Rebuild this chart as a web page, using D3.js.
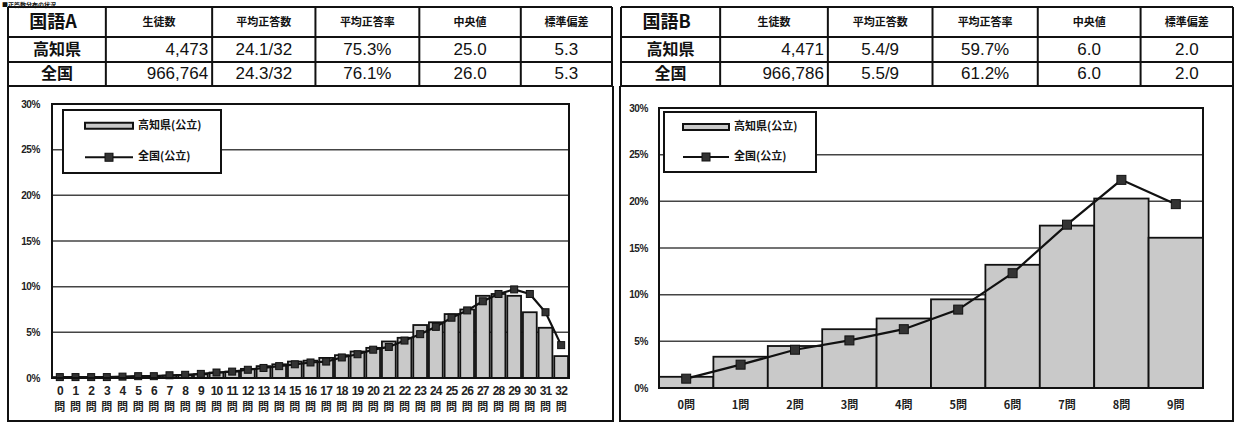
<!DOCTYPE html>
<html><head><meta charset="utf-8">
<script src="https://cdn.jsdelivr.net/npm/d3@7"></script>
<style>
html,body{margin:0;padding:0;background:#fff;}
svg{display:block;}
</style></head>
<body>
<svg id="c" width="1236" height="423"></svg>
<script>
// ---------- DATA ----------
const tableAHeaders = ["国語A","生徒数","平均正答数","平均正答率","中央値","標準偏差"];
const tableARows = [
  ["高知県","4,473","24.1/32","75.3%","25.0","5.3"],
  ["全国","966,764","24.3/32","76.1%","26.0","5.3"]
];
const tableBHeaders = ["国語B","生徒数","平均正答数","平均正答率","中央値","標準偏差"];
const tableBRows = [
  ["高知県","4,471","5.4/9","59.7%","6.0","2.0"],
  ["全国","966,786","5.5/9","61.2%","6.0","2.0"]
];
const seriesNames = ["高知県(公立)","全国(公立)"];
const yTicks = [0,5,10,15,20,25,30];

const catsA = d3.range(0,33).map(String);
const kochiA = [0.1,0.05,0.05,0.1,0.1,0.15,0.2,0.25,0.3,0.4,0.6,0.7,1.0,1.3,1.5,1.8,1.9,2.2,2.5,2.9,3.3,4.0,4.4,5.8,6.1,7.0,7.5,9.0,9.2,9.0,7.2,5.5,2.4];
const zenkokuA = [0.1,0.1,0.1,0.1,0.15,0.2,0.2,0.3,0.35,0.45,0.6,0.7,0.9,1.1,1.3,1.5,1.7,1.8,2.25,2.6,3.1,3.4,4.1,4.8,5.6,6.6,7.4,8.4,9.2,9.7,9.2,7.2,3.6];

const catsB = ["0問","1問","2問","3問","4問","5問","6問","7問","8問","9問"];
const kochiB = [1.2,3.35,4.5,6.3,7.45,9.5,13.2,17.4,20.3,16.1];
const zenkokuB = [1.0,2.5,4.1,5.1,6.3,8.4,12.3,17.5,22.3,19.7];

// ---------- DRAW ----------
const svg = d3.select("#c");
const JP = "'Noto Sans CJK JP','Noto Sans CJK SC',sans-serif";
const NUM = "'Liberation Sans Narrow','Liberation Sans',Arial,sans-serif";
const LAT = "'Liberation Sans',Arial,sans-serif";

// small title above the tables
svg.append("text").attr("x",2).attr("y",6.5).attr("font-family",JP).attr("font-weight","bold")
  .attr("font-size",6).attr("fill","#111").text("■正答数分布の状況");

const colFr = [0,0.162,0.338,0.509,0.681,0.849,1];
const rowYs = [7,37,62,86];

function drawTable(x0,x1,headers,rows){
  const g = svg.append("g");
  const w = x1-x0;
  const xs = colFr.map(f=>x0+f*w);
  headers.forEach((h,i)=>{
    const cx=(xs[i]+xs[i+1])/2;
    g.append("text").attr("x", i===0? cx-4: cx).attr("y",(rowYs[0]+rowYs[1])/2+1)
      .attr("text-anchor","middle").attr("dominant-baseline","middle")
      .attr("font-family",JP).attr("font-weight","bold")
      .attr("font-size", i===0?18:11).attr("fill","#111").text(h);
  });
  rows.forEach((r,ri)=>{
    const yc=(rowYs[ri+1]+rowYs[ri+2])/2+1;
    r.forEach((v,i)=>{
      const cx=(xs[i]+xs[i+1])/2;
      const t=g.append("text").attr("y",yc).attr("dominant-baseline","middle").attr("fill","#111");
      if(i===0){ t.attr("x",cx).attr("text-anchor","middle").attr("font-family",JP).attr("font-weight","bold").attr("font-size",16); }
      else if(i===1){ t.attr("x",xs[2]-4).attr("text-anchor","end").attr("font-family",NUM).attr("font-size",17); }
      else { t.attr("x",cx).attr("text-anchor","middle").attr("font-family",NUM).attr("font-size",17); }
      t.text(v);
    });
  });
  rowYs.forEach(y=>g.append("line").attr("x1",x0).attr("x2",x1).attr("y1",y).attr("y2",y).attr("stroke","#111").attr("stroke-width",2));
  xs.forEach(x=>g.append("line").attr("x1",x).attr("x2",x).attr("y1",rowYs[0]).attr("y2",rowYs[3]).attr("stroke","#111").attr("stroke-width",2));
}
drawTable(8,612,tableAHeaders,tableARows);
drawTable(621,1233,tableBHeaders,tableBRows);

function panel(x0,x1){
  svg.append("path").attr("d",`M${x0},86V421H${x1}V86`).attr("fill","none").attr("stroke","#111").attr("stroke-width",2);
}
panel(8,613);
panel(620,1233);

function drawChart(o){
  const g = svg.append("g");
  const x = d3.scaleBand().domain(o.cats).range([o.left,o.right]).paddingInner(o.pad).paddingOuter(o.pad/2);
  const y = d3.scaleLinear().domain([0,30]).range([o.bottom,o.top]);
  g.selectAll(".grid").data(yTicks.filter(t=>t>0&&t<30)).join("line")
    .attr("x1",o.left).attr("x2",o.right).attr("y1",d=>y(d)).attr("y2",d=>y(d))
    .attr("stroke","#444").attr("stroke-width",1.5);
  const ya = g.append("g").attr("transform",`translate(${o.left},0)`)
    .call(d3.axisLeft(y).tickValues(yTicks).tickFormat(d=>d+"%").tickSize(0).tickPadding(o.ypad));
  ya.select(".domain").remove();
  ya.selectAll("text").attr("font-family",LAT).attr("font-weight","bold")
    .attr("font-size",10).attr("letter-spacing",-0.4).attr("fill","#222");
  g.selectAll(".bar").data(o.bars).join("rect")
    .attr("x",(d,i)=>x(o.cats[i])).attr("width",x.bandwidth())
    .attr("y",d=>y(d)).attr("height",d=>y(0)-y(d))
    .attr("fill","#c9c9c9").attr("stroke","#111").attr("stroke-width",o.barStroke);
  const line = d3.line().x((d,i)=>x(o.cats[i])+x.bandwidth()/2).y(d=>y(d));
  g.append("path").datum(o.line).attr("d",line).attr("fill","none").attr("stroke","#111").attr("stroke-width",2.2);
  g.selectAll(".mk").data(o.line).join("rect")
    .attr("x",(d,i)=>x(o.cats[i])+x.bandwidth()/2-o.mk/2).attr("y",d=>y(d)-o.mk/2)
    .attr("width",o.mk).attr("height",o.mk).attr("fill","#333").attr("stroke","#111").attr("stroke-width",1);
  g.append("rect").attr("x",o.left).attr("y",o.top).attr("width",o.right-o.left).attr("height",o.bottom-o.top)
    .attr("fill","none").attr("stroke","#111").attr("stroke-width",2);
  o.cats.forEach((c,i)=>{
    const cx = x(c)+x.bandwidth()/2;
    if(o.split){
      g.append("text").attr("x",cx).attr("y",o.bottom+17).attr("text-anchor","middle")
        .attr("font-family",LAT).attr("font-weight","bold").attr("font-size",12)
        .attr("letter-spacing",-0.8).attr("fill","#222").text(c);
      g.append("text").attr("x",cx).attr("y",o.bottom+33).attr("text-anchor","middle")
        .attr("font-family",JP).attr("font-weight","bold").attr("font-size",11).attr("fill","#222").text("問");
    } else {
      g.append("text").attr("x",cx).attr("y",o.bottom+21).attr("text-anchor","middle")
        .attr("font-family",JP).attr("font-weight","bold").attr("font-size",11).attr("fill","#222").text(c);
    }
  });
  const L=o.leg;
  g.append("rect").attr("x",L.x).attr("y",L.y).attr("width",L.w).attr("height",L.h)
    .attr("fill","#fff").attr("stroke","#111").attr("stroke-width",2);
  g.append("rect").attr("x",L.sx).attr("y",L.y+L.h*0.25-3).attr("width",L.sw).attr("height",6)
    .attr("fill","#c9c9c9").attr("stroke","#111").attr("stroke-width",2);
  g.append("line").attr("x1",L.sx).attr("x2",L.sx+L.sw).attr("y1",L.y+L.h*0.75).attr("y2",L.y+L.h*0.75)
    .attr("stroke","#111").attr("stroke-width",2.2);
  g.append("rect").attr("x",L.sx+L.sw/2-4).attr("y",L.y+L.h*0.75-4).attr("width",8).attr("height",8).attr("fill","#333").attr("stroke","#111");
  seriesNames.forEach((s,i)=>{
    g.append("text").attr("x",L.sx+L.sw+5).attr("y",L.y+L.h*(i?0.75:0.25)).attr("dominant-baseline","middle")
      .attr("font-family",JP).attr("font-weight","bold").attr("font-size",11).attr("fill","#111").text(s);
  });
}

drawChart({cats:catsA,bars:kochiA,line:zenkokuA,left:52,right:569,top:104,bottom:378,pad:0.12,
  barStroke:1.8,mk:7,ypad:12,split:true,
  leg:{x:63,y:110,w:158,h:63,sx:85,sw:48}});
drawChart({cats:catsB,bars:kochiB,line:zenkokuB,left:659,right:1203,top:108,bottom:388,pad:0,
  barStroke:1.8,mk:9,ypad:11,split:false,
  leg:{x:664,y:112,w:152,h:60,sx:683,sw:46}});
</script>
</body></html>
